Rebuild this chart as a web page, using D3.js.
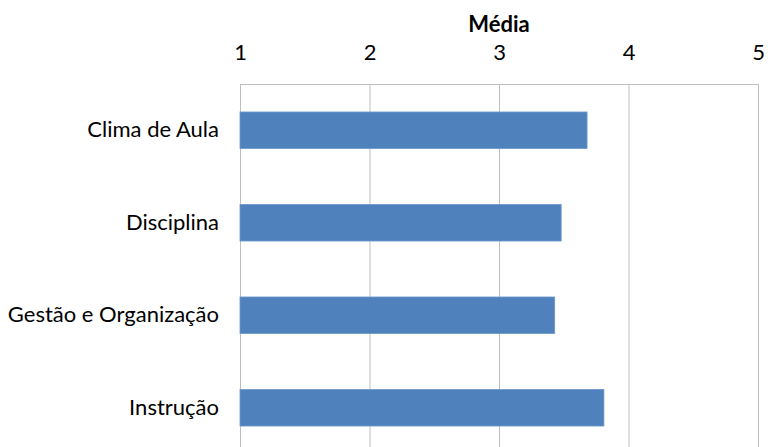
<!DOCTYPE html>
<html>
<head>
<meta charset="utf-8">
<script src="https://cdn.jsdelivr.net/npm/d3@7"></script>
<style>
  body { margin: 0; background: #fff; }
  text { font-family: Lato, "Open Sans", sans-serif; fill: #000; }
</style>
</head>
<body>
<div id="chart"></div>
<script>
// Data
const categories = ["Clima de Aula", "Disciplina", "Gestão e Organização", "Instrução"];
const values = [3.68, 3.48, 3.43, 3.81];
const ticks = [1, 2, 3, 4, 5];
const axisTitle = "Média";

const W = 768, H = 447;
const margin = { top: 84, right: 10, bottom: -7, left: 240 };
const width = 758 - margin.left;
const height = H - margin.top - margin.bottom;

const svg = d3.select("#chart").append("svg")
    .attr("width", W)
    .attr("height", H);

const g = svg.append("g")
    .attr("transform", `translate(${margin.left},${margin.top})`);

const x = d3.scaleLinear().domain([1, 5]).range([0, width]);
const y = d3.scaleBand().domain(categories).range([0, height])
    .paddingInner(0.605).paddingOuter(0.3025);

// gridlines + border
g.selectAll(".grid")
    .data(ticks)
    .enter().append("line")
    .attr("x1", d => x(d) + 0.5).attr("x2", d => x(d) + 0.5)
    .attr("y1", 0).attr("y2", height)
    .style("stroke", "#bfbfbf").style("stroke-width", 1);

g.append("line")
    .attr("x1", 0).attr("x2", width)
    .attr("y1", 0.5).attr("y2", 0.5)
    .style("stroke", "#bfbfbf");

// bars
g.selectAll(".bar")
    .data(categories)
    .enter().append("rect")
    .attr("class", "bar")
    .attr("x", x(1))
    .attr("y", d => y(d))
    .attr("width", (d, i) => x(values[i]) - x(1))
    .attr("height", y.bandwidth())
    .style("fill", "#4f81bd")
    .style("stroke", "#6d98cb")
    .style("stroke-width", 0.8);

// top axis labels
const xAxis = g.append("g")
    .call(d3.axisTop(x).tickValues(ticks).tickFormat(d3.format("d")).tickSize(0).tickPadding(24));
xAxis.select(".domain").remove();
xAxis.selectAll("text")
    .style("font-size", "22px")
    .style("font-family", "Lato, sans-serif");

// category labels
const yAxis = g.append("g")
    .call(d3.axisLeft(y).tickSize(0).tickPadding(21));
yAxis.select(".domain").remove();
yAxis.selectAll("text")
    .style("font-size", "22px")
    .style("font-family", "Lato, sans-serif");

// axis title
svg.append("text")
    .attr("x", margin.left + width / 2)
    .attr("y", 32)
    .attr("text-anchor", "middle")
    .style("font-size", "22px")
    .style("font-weight", "bold")
    .text(axisTitle);
</script>
</body>
</html>
